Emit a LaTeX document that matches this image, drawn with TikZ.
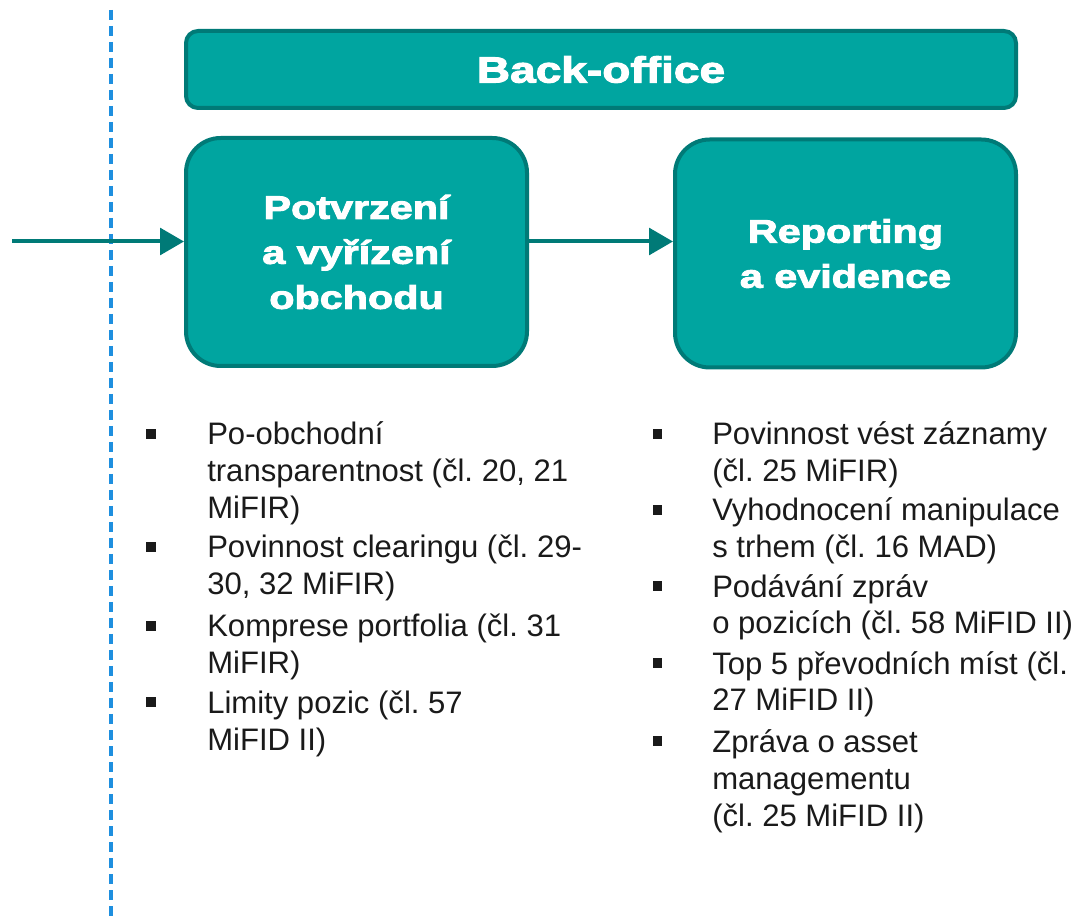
\documentclass[tikz,border=0pt]{standalone}
\usepackage{fontspec}
\setmainfont{Liberation Sans}
\newfontfamily\headfont[FakeStretch=1.27,FakeBold=3]{Liberation Sans Bold}
\usetikzlibrary{arrows.meta}
\definecolor{tealfill}{HTML}{00A5A0}
\definecolor{tealline}{HTML}{007A77}
\definecolor{guide}{HTML}{1E8FDF}
\definecolor{bodytext}{HTML}{1A1A1A}
\frenchspacing
\tikzset{
  banner/.style={draw=tealline, fill=tealfill, line width=3pt, rounded corners=9pt,
    minimum width=622.5pt, minimum height=57.75pt, text=white,
    font=\headfont\fontsize{27.2}{32}\selectfont},
  stepbox/.style={draw=tealline, fill=tealfill, line width=3pt, rounded corners=26pt,
    minimum width=255.75pt, minimum height=171pt, text=white, align=center,
    font=\headfont\fontsize{24.4}{33.75}\selectfont},
  flow/.style={draw=tealline, line width=3pt, -{Triangle[length=18pt,width=20pt]}},
  bullet/.style={fill=bodytext, minimum size=7pt, inner sep=0pt},
  item/.style={anchor=base west, inner sep=0pt, align=left, text=bodytext,
    font=\fontsize{23.3}{27.75}\selectfont},
}
\begin{document}
\begin{tikzpicture}[x=0.75pt,y=-0.75pt]
\useasboundingbox (0,0) rectangle (1076,923);

% dashed guide line
\draw[guide, line width=2.4pt, dash pattern=on 7.5pt off 4.5pt] (111,10) coordinate (gtop) -- (111,918) coordinate (gbot);

% header and process steps
\node[banner] (bo) at (601,69.5) {Back-office};
\node[stepbox] (confirm) at (356.5,252) {Potvrzení\\a vyřízení\\obchodu};
\node[stepbox] (report) at (845.5,253.5) {Reporting\\a evidence};

% connectors
\coordinate (in) at (12,241.5);
\draw[flow] (in) -- (in -| confirm.west);
\draw[flow] (in -| confirm.east) -- (in -| report.west);

% left list (node placed at the baseline of its last line)
\node[bullet] (lb1) at (151,434) {};
\node[item] (l1) at (207,519) {Po-obchodní\\transparentnost (čl. 20, 21\\MiFIR)};
\node[bullet] (lb2) at (151,547) {};
\node[item] (l2) at (207,595) {Povinnost clearingu (čl. 29-\\30, 32 MiFIR)};
\node[bullet] (lb3) at (151,626) {};
\node[item] (l3) at (207,674) {Komprese portfolia (čl. 31\\MiFIR)};
\node[bullet] (lb4) at (151,702) {};
\node[item] (l4) at (207,750) {Limity pozic (čl. 57\\MiFID II)};

% right list
\node[bullet] (rb1) at (657.5,434) {};
\node[item] (r1) at (712,482) {Povinnost vést záznamy\\(čl. 25 MiFIR)};
\node[bullet] (rb2) at (657.5,510) {};
\node[item] (r2) at (712,558) {Vyhodnocení manipulace\\s trhem (čl. 16 MAD)};
\node[bullet] (rb3) at (657.5,586) {};
\node[item] (r3) at (712,634) {Podávání zpráv\\o pozicích (čl. 58 MiFID II)};
\node[bullet] (rb4) at (657.5,663) {};
\node[item] (r4) at (712,711) {Top 5 převodních míst (čl.\\27 MiFID II)};
\node[bullet] (rb5) at (657.5,741) {};
\node[item] (r5) at (712,826) {Zpráva o asset\\managementu\\(čl. 25 MiFID II)};
\end{tikzpicture}
\end{document}
